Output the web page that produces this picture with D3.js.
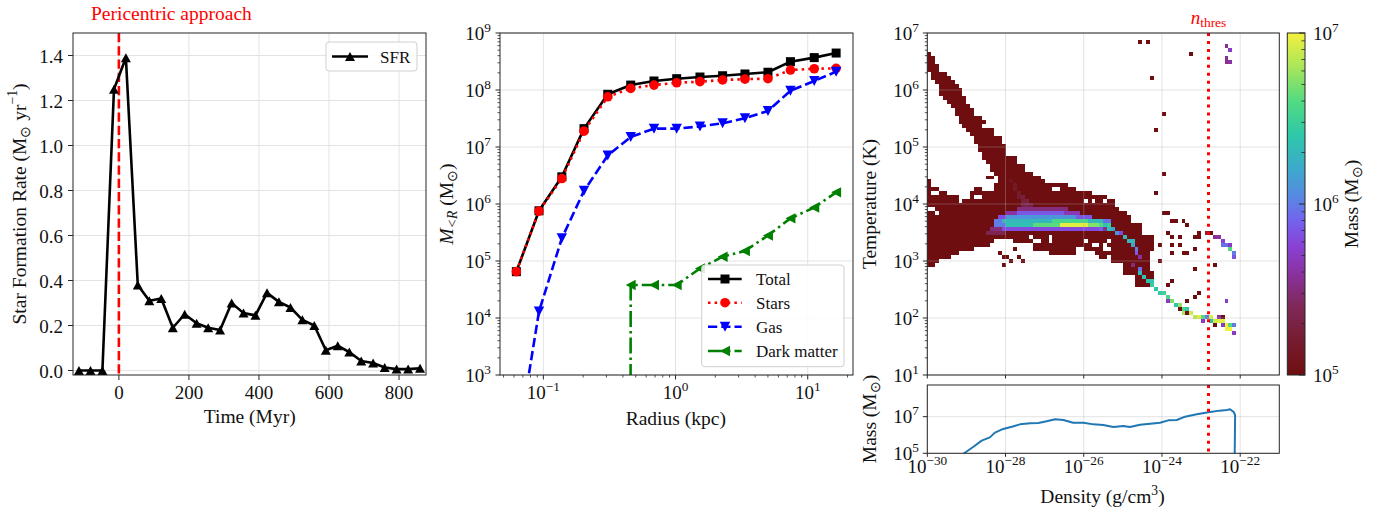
<!DOCTYPE html>
<html><head><meta charset="utf-8">
<script src="https://cdn.jsdelivr.net/npm/d3@7"></script>
<style>body{margin:0;background:#fff}svg{display:block}text{font-family:"Liberation Serif","Times New Roman",serif}</style>
</head><body><svg id="c" width="1391" height="516"></svg>
<script>
// ================= DATA =================
// Panel 1: star formation rate
const sfrTime = [-114,-81,-47,-14,20,54,87,121,154,188,222,255,289,322,356,390,423,457,490,524,558,591,625,658,692,726,759,793,826,860];
const sfrRate = [0,0,0,1.25,1.39,0.38,0.31,0.32,0.19,0.25,0.21,0.19,0.18,0.30,0.255,0.245,0.345,0.305,0.28,0.225,0.20,0.09,0.11,0.082,0.042,0.033,0.013,0.006,0.006,0.01];
const sfrXTicks = [0,200,400,600,800];
const sfrYTicks = [0,0.2,0.4,0.6,0.8,1.0,1.2,1.4];
const pericentreTime = 0;

// Panel 2: enclosed mass profiles
const radius    = [0.0625,0.0927,0.138,0.203,0.307,0.458,0.687,1.02,1.53,2.27,3.35,5.0,7.4,11.2,16.4];
const massTotal = [6.5e4,7.6e5,3.0e6,2.1e7,8.4e7,1.22e8,1.44e8,1.58e8,1.69e8,1.78e8,1.91e8,2.05e8,3.14e8,3.7e8,4.45e8];
const massStars = [6.5e4,7.5e5,2.8e6,1.9e7,7.6e7,1.07e8,1.22e8,1.34e8,1.40e8,1.50e8,1.55e8,1.58e8,2.24e8,2.36e8,2.4e8];
const massGas   = [45,1.3e4,2.5e5,1.7e6,7.1e6,1.5e7,2.1e7,2.1e7,2.3e7,2.6e7,3.2e7,4.3e7,9.7e7,1.44e8,2.1e8];
const massDM    = [0,0,0,0,0,3.8e4,3.8e4,3.8e4,7.4e4,1.19e5,1.5e5,2.8e5,5.6e5,8.7e5,1.6e6];
const seriesNames = ["Total","Stars","Gas","Dark matter"];
const radiusTickExps = [-1,0,1];
const massTickExps = [3,4,5,6,7,8,9];

// Panel 3: phase diagram (2D histogram, bins in log10 units)
const rhoMinLog = -30, rhoBinDex = 0.1, tempMinLog = 1, tempBinDex = 0.07;
const densityTickExps = [-30,-28,-26,-24,-22];
const tempTickExps = [1,2,3,4,5,6,7];
const massHistTickExps = [5,7];
const cbarTickExps = [5,6,7];
const nThresLog = -22.81;
// cells at the colour-scale floor (<= 1e5 Msun): blocks [i0,i1,j0,j1]
const darkBlocks = [[0,0,80,80],[0,1,78,79],[0,2,76,77],[1,4,75,75],[1,5,74,74],[2,6,73,73],[3,7,72,72],[3,8,70,71],[4,9,69,69],[5,9,68,68],[6,10,67,67],[7,11,65,66],[8,13,64,64],[8,14,63,63],[9,13,62,62],[10,16,61,61],[11,16,60,60],[12,18,58,59],[13,19,56,57],[14,19,55,55],[14,22,54,54],[15,22,53,53],[16,24,51,52],[17,26,50,50],[15,16,49,49],[18,28,49,49],[18,29,48,48],[17,30,47,47],[31,35,47,47],[57,57,23,25]];
// columns i = 0.. : bottom and top bin of the warm/cold gas region
const darkColBottom = [27,27,28,29,29,29,30,30,31,31,31,31,32,32,32,33,33,34,34,34,34,34,33,33,33,33,33,31,31,31,31,30,30,30,30,30,30,30,32,32,31,31,31,30,29,29,30,28,28,28,25,25,25,22,22,22,22,31];
const darkColTop    = [48,46,46,45,45,44,44,44,43,43,43,45,46,46,45,45,45,47,48,48,48,48,48,48,48,48,48,48,48,48,47,47,47,47,47,47,46,46,45,45,45,45,44,44,44,44,43,43,41,40,40,39,37,37,37,34,34,34];
const darkHoles = [[0,41],[1,41],[2,40],[8,43],[1,45],[2,45],[12,44],[13,44],[26,34],[27,33],[28,33],[31,33],[31,34],[32,46],[33,46],[40,43],[42,43],[45,43],[40,33],[42,32],[43,32],[45,32],[46,31],[46,33],[45,31]];
const darkScatter = [[15,32],[18,30],[19,29],[20,29],[22,31],[21,28],[23,29],[24,28],[19,27],
 [54,83],[56,83],[67,80],[57,74],[60,65],[58,61],[60,50],[58,45],[60,40],[61,40],[62,38],[63,38],[65,38],[66,37],[61,35],[62,34],[64,34],[68,34],[69,34],[69,35],[72,35],[59,32],[62,32],[64,32],[62,30],[65,30],[66,30],[68,31],[59,28],[68,26],[73,27],[62,23],[61,22],[69,20],[68,19],[66,18],[64,16],[66,15],[75,14],[73,12]];
// coloured runs [j,i0,i1,log10 mass]
const ridgeRuns = [[41,23,35,5.5],[40,20,22,5.6],[40,23,34,5.85],[40,35,38,5.65],[39,18,19,5.8],[39,20,37,6.1],[39,38,41,5.85],
 [38,17,18,6.0],[38,19,31,6.3],[38,32,40,6.55],[38,41,44,6.3],[38,45,46,5.95],
 [37,17,19,6.0],[37,20,26,6.35],[37,27,33,6.62],[37,34,40,6.95],[37,41,43,6.72],[37,44,46,6.45],
 [36,16,18,5.5],[36,19,43,5.8],[36,44,45,5.55],[35,15,19,5.35]];
// coloured single cells [i,j,log10 mass]
const ridgeCells = [[21,48,5.1],[22,47,5.15],[22,46,5.15],[23,45,5.2],[23,44,5.2],[24,44,5.25],[24,43,5.25],[25,43,5.3],[24,42,5.3],[25,42,5.35],[26,42,5.3],
 [44,37,6.6],[44,36,5.9],[45,37,6.35],[46,36,6.35],[47,36,6.2],[48,35,6.1],[49,35,5.8],[50,34,6.3],[51,33,6.3],[52,33,6.3],[52,32,6.15],[53,31,6.0],[53,30,5.85],[54,29,5.6],[52,27,5.5],[54,26,5.95],[54,25,6.3],[55,24,6.35],[56,23,6.35],[57,23,6.4],[57,22,6.45],[58,21,6.4],[59,20,6.4],[60,20,6.5],[61,18,5.7],[61,19,6.55],[62,18,6.7],[63,17,6.4],[64,17,6.75],[65,16,6.6],[65,15,6.8],[66,16,6.4],[67,15,6.9],[68,14,6.85],[69,14,6.95],[70,14,6.6],[70,13,5.7],[71,14,6.0],[72,14,6.95],[72,13,6.35],[73,13,6.9],[74,13,6.95],[75,13,6.95],[75,12,5.7],[76,12,7.0],[77,12,6.6],[78,12,6.0],[76,11,7.0],[77,11,7.0],[78,10,5.7],[74,14,5.6],
 [71,35,5.3],[73,34,5.55],[74,34,5.6],[75,33,5.75],[75,32,5.95],[76,32,5.95],[77,32,5.7],[77,31,6.6],[78,30,6.0],[78,29,5.85],[76,18,5.7],
 [76,82,5.55],[77,81,5.7],[76,79,5.55],[76,78,5.55],[77,78,5.6]];
// gas mass per density bin (log10 values)
const massCurveRhoLog = [-29.2,-29.04,-28.82,-28.61,-28.40,-28.27,-28.06,-27.84,-27.63,-27.37,-27.16,-26.95,-26.73,-26.52,-26.27,-26.01,-25.75,-25.50,-25.24,-24.99,-24.82,-24.56,-24.30,-24.05,-23.84,-23.62,-23.41,-23.11,-22.81,-22.53,-22.34,-22.26,-22.17,-22.13,-22.15];
const massCurveMLog   = [4.75,5.03,5.36,5.69,5.87,6.13,6.33,6.45,6.58,6.64,6.66,6.75,6.86,6.82,6.67,6.67,6.58,6.55,6.44,6.49,6.44,6.56,6.62,6.67,6.80,6.82,7.0,7.13,7.24,7.33,7.37,7.40,7.27,7.09,3.0];

// ================= DRAWING =================
const svg = d3.select('#c');
const TICK_FS = 19, LAB_FS = 19.5, LEG_FS = 17;
const GRIDC = '#e3e3e3', AX = '#262626';

function richText(parent, x, y, parts, size, anchor, rotate, fill) {
  const t = parent.append('text').attr('x', x).attr('y', y).attr('font-size', size)
    .attr('text-anchor', anchor || 'start').attr('fill', fill || '#111');
  if (rotate) t.attr('transform', `rotate(${rotate},${x},${y})`);
  let shift = 0;
  parts.forEach(p => {
    const k = typeof p === 'string' ? {t: p} : p;
    const fs = k.s ? size * 0.7 : size;
    const target = k.s === 'sup' ? -0.42 * size : k.s === 'sub' ? 0.22 * size : 0;
    const ts = t.append('tspan').attr('font-size', fs).attr('dy', target - shift).text(k.t);
    if (k.i) ts.attr('font-style', 'italic');
    shift = target;
  });
  return t;
}
const pow10 = e => ['10', {t: (e < 0 ? '\u2212' : '') + Math.abs(e), s: 'sup'}];
function ln(g, x1, y1, x2, y2, stroke, w, dash) {
  const l = g.append('line').attr('x1', x1).attr('y1', y1).attr('x2', x2).attr('y2', y2)
    .attr('stroke', stroke).attr('stroke-width', w);
  if (dash) l.attr('stroke-dasharray', dash);
  return l;
}
function minorLog(domain) {
  const out = [];
  const a = Math.floor(Math.log10(domain[0])), b = Math.ceil(Math.log10(domain[1]));
  for (let d = a; d <= b; d++) for (let k = 2; k <= 9; k++) {
    const v = k * Math.pow(10, d);
    if (v >= domain[0] && v <= domain[1]) out.push(v);
  }
  return out;
}
const markerPaths = {
  tri: 'M0,-4.6L5,4.4L-5,4.4Z',
  triDown: 'M0,5L-5.2,-5L5.2,-5Z',
  triLeft: 'M-5,0L5,-5.2L5,5.2Z',
  square: 'M-4.5,-4.5H4.5V4.5H-4.5Z'
};
function clip(id, x0, y0, x1, y1) {
  svg.append('clipPath').attr('id', id).append('rect').attr('x', x0).attr('y', y0).attr('width', x1 - x0).attr('height', y1 - y0);
  return `url(#${id})`;
}

// ---------- Panel 1 ----------
{
  const P = {x0: 73, x1: 426, y0: 33, y1: 375};
  const g = svg.append('g');
  const x = d3.scaleLinear().domain([-131, 877]).range([P.x0, P.x1]);
  const y = d3.scaleLinear().domain([-0.02, 1.5]).range([P.y1, P.y0]);
  sfrXTicks.forEach(v => ln(g, x(v), P.y0, x(v), P.y1, GRIDC, 1));
  sfrYTicks.forEach(v => ln(g, P.x0, y(v), P.x1, y(v), GRIDC, 1));
  sfrXTicks.forEach(v => {
    ln(g, x(v), P.y1, x(v), P.y1 + 5, AX, 1);
    g.append('text').attr('x', x(v)).attr('y', 398.5).attr('text-anchor', 'middle').attr('font-size', TICK_FS).attr('fill', '#111').text(d3.format('d')(v));
  });
  sfrYTicks.forEach(v => {
    ln(g, P.x0 - 5, y(v), P.x0, y(v), AX, 1);
    g.append('text').attr('x', 63).attr('y', y(v) + 7).attr('text-anchor', 'end').attr('font-size', TICK_FS).attr('fill', '#111').text(d3.format('.1f')(v));
  });
  const cp = clip('clipL', P.x0, P.y0, P.x1, P.y1);
  const pg = g.append('g').attr('clip-path', cp);
  ln(pg, x(pericentreTime), P.y0, x(pericentreTime), P.y1, '#ff0000', 2.6, '9.25,4');
  pg.append('path').datum(sfrTime.map((t, i) => [t, sfrRate[i]]))
    .attr('d', d3.line().x(d => x(d[0])).y(d => y(d[1])))
    .attr('fill', 'none').attr('stroke', '#000').attr('stroke-width', 2.6).attr('stroke-linejoin', 'round');
  sfrTime.forEach((t, i) => pg.append('path').attr('d', markerPaths.tri).attr('transform', `translate(${x(t)},${y(sfrRate[i])})`).attr('fill', '#000'));
  g.append('rect').attr('x', P.x0).attr('y', P.y0).attr('width', P.x1 - P.x0).attr('height', P.y1 - P.y0).attr('fill', 'none').attr('stroke', AX).attr('stroke-width', 1);
  // legend
  g.append('rect').attr('x', 326).attr('y', 42).attr('width', 91).attr('height', 29).attr('rx', 3).attr('fill', 'rgba(255,255,255,0.85)').attr('stroke', '#d0d0d0');
  ln(g, 332, 56.5, 368, 56.5, '#000', 2.6);
  g.append('path').attr('d', markerPaths.tri).attr('transform', 'translate(350,56.5)').attr('fill', '#000');
  g.append('text').attr('x', 380).attr('y', 62.5).attr('font-size', LEG_FS).attr('fill', '#111').text('SFR');
  // labels
  g.append('text').attr('x', 91).attr('y', 19.5).attr('font-size', LAB_FS).attr('fill', '#ff0000').text('Pericentric approach');
  g.append('text').attr('x', 249.7).attr('y', 423.3).attr('text-anchor', 'middle').attr('font-size', LAB_FS).attr('fill', '#111').text('Time (Myr)');
  richText(g, 25.5, 204, ['Star Formation Rate (M', {t: '\u2299', s: 'sub'}, ' yr', {t: '\u22121', s: 'sup'}, ')'], LAB_FS, 'middle', -90);
}

// ---------- Panel 2 ----------
{
  const P = {x0: 500, x1: 853, y0: 33, y1: 375};
  const g = svg.append('g');
  const x = d3.scaleLog().domain([0.047, 22]).range([P.x0, P.x1]);
  const y = d3.scaleLog().domain([1e3, 1e9]).range([P.y1, P.y0]);
  radiusTickExps.forEach(e => ln(g, x(Math.pow(10, e)), P.y0, x(Math.pow(10, e)), P.y1, GRIDC, 1));
  massTickExps.forEach(e => ln(g, P.x0, y(Math.pow(10, e)), P.x1, y(Math.pow(10, e)), GRIDC, 1));
  radiusTickExps.forEach(e => {
    const xv = x(Math.pow(10, e));
    ln(g, xv, P.y1, xv, P.y1 + 4.5, AX, 1);
    richText(g, xv, 399, pow10(e), TICK_FS, 'middle');
  });
  minorLog(x.domain()).forEach(v => ln(g, x(v), P.y1, x(v), P.y1 + 2.5, AX, 0.8));
  massTickExps.forEach(e => {
    const yv = y(Math.pow(10, e));
    ln(g, P.x0 - 4.5, yv, P.x0, yv, AX, 1);
    richText(g, 491, yv + 6.5, pow10(e), TICK_FS, 'end');
  });
  minorLog(y.domain()).forEach(v => ln(g, P.x0 - 2.5, y(v), P.x0, y(v), AX, 0.8));
  const cp = clip('clipM', P.x0, P.y0, P.x1, P.y1);
  const pg = g.append('g').attr('clip-path', cp);
  const safe = v => (v > 0 ? v : 1e-300);
  const series = [
    {vals: massTotal, color: '#000000', dash: null, marker: 'square'},
    {vals: massStars, color: '#ff0000', dash: '2.5,4.1', marker: 'circle'},
    {vals: massGas, color: '#0000ff', dash: '9.25,4', marker: 'triDown'},
    {vals: massDM, color: '#008000', dash: '16,4,2.5,4', marker: 'triLeft'}
  ];
  const drawMarker = (gg, m, cx, cy, color) => {
    if (m === 'circle') gg.append('circle').attr('cx', cx).attr('cy', cy).attr('r', 4.8).attr('fill', color);
    else gg.append('path').attr('d', markerPaths[m]).attr('transform', `translate(${cx},${cy})`).attr('fill', color);
  };
  series.forEach(s => {
    pg.append('path').datum(radius.map((r, i) => [r, safe(s.vals[i])]))
      .attr('d', d3.line().x(d => x(d[0])).y(d => y(d[1])))
      .attr('fill', 'none').attr('stroke', s.color).attr('stroke-width', 2.6)
      .attr('stroke-dasharray', s.dash).attr('stroke-linejoin', 'round');
    radius.forEach((r, i) => { if (s.vals[i] > 0) drawMarker(pg, s.marker, x(r), y(s.vals[i]), s.color); });
  });
  g.append('rect').attr('x', P.x0).attr('y', P.y0).attr('width', P.x1 - P.x0).attr('height', P.y1 - P.y0).attr('fill', 'none').attr('stroke', AX).attr('stroke-width', 1);
  // legend
  g.append('rect').attr('x', 701.7).attr('y', 265).attr('width', 142.3).attr('height', 101.7).attr('rx', 3).attr('fill', 'rgba(255,255,255,0.85)').attr('stroke', '#d0d0d0');
  const ly = [279, 302.7, 326.7, 351];
  series.forEach((s, k) => {
    ln(g, 708, ly[k], 741.7, ly[k], s.color, 2.6, s.dash);
    drawMarker(g, s.marker, 725, ly[k], s.color);
    g.append('text').attr('x', 756).attr('y', ly[k] + 6).attr('font-size', LEG_FS).attr('fill', '#111').text(seriesNames[k]);
  });
  g.append('text').attr('x', 675.8).attr('y', 425).attr('text-anchor', 'middle').attr('font-size', LAB_FS).attr('fill', '#111').text('Radius (kpc)');
  richText(g, 453, 204, [{t: 'M', i: 1}, {t: '<R', s: 'sub', i: 1}, ' (M', {t: '\u2299', s: 'sub'}, ')'], LAB_FS, 'middle', -90);
}

// ---------- Panel 3 ----------
const cmapStops = [[0,'#6e0e10'],[0.1,'#761c30'],[0.2,'#7e2858'],[0.3,'#8a32a2'],[0.38,'#8842d6'],[0.45,'#7462ee'],[0.52,'#5888e2'],[0.6,'#3ea8cc'],[0.7,'#2ec8aa'],[0.8,'#52da82'],[0.9,'#a8e65a'],[1,'#f4f03c']];
const cmap = d3.scaleLinear().domain(cmapStops.map(d => d[0])).range(cmapStops.map(d => d[1])).interpolate(d3.interpolateRgb).clamp(true);
{
  const P = {x0: 927.3, x1: 1279.3, y0: 33, y1: 375};
  const B = {y0: 385, y1: 453.3};
  const g = svg.append('g');
  const x = d3.scaleLog().domain([1e-30, 1e-21]).range([P.x0, P.x1]);
  const y = d3.scaleLog().domain([1e1, 1e7]).range([P.y1, P.y0]);
  const yb = d3.scaleLog().domain([1e5, Math.pow(10, 8.73)]).range([B.y1, B.y0]);
  const cNorm = d3.scaleLog().domain([1e5, 1e7]).range([0, 1]).clamp(true);

  // build histogram cells
  const cells = new Map();
  const put = (i, j, v) => cells.set(i + ',' + j, [i, j, v]);
  darkBlocks.forEach(([i0, i1, j0, j1]) => { for (let i = i0; i <= i1; i++) for (let j = j0; j <= j1; j++) put(i, j, 5); });
  darkColBottom.forEach((jb, i) => { for (let j = jb; j <= darkColTop[i]; j++) put(i, j, 5); });
  darkHoles.forEach(([i, j]) => cells.delete(i + ',' + j));
  darkScatter.forEach(([i, j]) => put(i, j, 5));
  ridgeRuns.forEach(([j, i0, i1, v]) => { for (let i = i0; i <= i1; i++) put(i, j, v); });
  ridgeCells.forEach(([i, j, v]) => put(i, j, v));
  const hg = g.append('g').attr('shape-rendering', 'crispEdges');
  cells.forEach(([i, j, v]) => {
    const xa = Math.round(x(Math.pow(10, rhoMinLog + i * rhoBinDex))), xb = Math.round(x(Math.pow(10, rhoMinLog + (i + 1) * rhoBinDex)));
    const ya = Math.round(y(Math.pow(10, tempMinLog + (j + 1) * tempBinDex))), yb2 = Math.round(y(Math.pow(10, tempMinLog + j * tempBinDex)));
    hg.append('rect').attr('x', xa).attr('y', ya).attr('width', xb - xa).attr('height', yb2 - ya)
      .attr('fill', cmap(cNorm(Math.pow(10, v))));
  });
  // grids
  const GR = 'rgba(176,176,176,0.35)';
  densityTickExps.forEach(e => {
    const xv = x(Math.pow(10, e));
    ln(g, xv, P.y0, xv, P.y1, GR, 1);
    ln(g, xv, B.y0, xv, B.y1, GR, 1);
  });
  tempTickExps.forEach(e => ln(g, P.x0, y(Math.pow(10, e)), P.x1, y(Math.pow(10, e)), GR, 1));
  massHistTickExps.forEach(e => ln(g, P.x0, yb(Math.pow(10, e)), P.x1, yb(Math.pow(10, e)), GR, 1));
  // ticks
  densityTickExps.forEach(e => {
    const xv = x(Math.pow(10, e));
    ln(g, xv, P.y1, xv, P.y1 + 3.5, AX, 1);
    ln(g, xv, B.y1, xv, B.y1 + 3.5, AX, 1);
    richText(g, xv, 473, pow10(e), TICK_FS, 'middle');
  });
  tempTickExps.forEach(e => {
    const yv = y(Math.pow(10, e));
    ln(g, P.x0 - 4.5, yv, P.x0, yv, AX, 1);
    richText(g, 919, yv + 6.5, pow10(e), TICK_FS, 'end');
  });
  minorLog(y.domain()).forEach(v => ln(g, P.x0 - 2.5, y(v), P.x0, y(v), AX, 0.8));
  massHistTickExps.forEach(e => {
    const yv = yb(Math.pow(10, e));
    ln(g, P.x0 - 4.5, yv, P.x0, yv, AX, 1);
    richText(g, 919, yv + 6.5, pow10(e), TICK_FS, 'end');
  });
  // mass curve
  const cp = clip('clipRB', P.x0, B.y0, P.x1, B.y1);
  g.append('g').attr('clip-path', cp).append('path')
    .datum(massCurveRhoLog.map((r, i) => [Math.pow(10, r), Math.pow(10, massCurveMLog[i])]))
    .attr('d', d3.line().x(d => x(d[0])).y(d => yb(d[1])))
    .attr('fill', 'none').attr('stroke', '#1f77b4').attr('stroke-width', 2).attr('stroke-linejoin', 'round');
  // threshold lines
  const xt = x(Math.pow(10, nThresLog));
  ln(g, xt, P.y0, xt, P.y1, '#ff0000', 3, '3,4.95');
  ln(g, xt, B.y0, xt, B.y1, '#ff0000', 3, '3,4.95');
  const nt = g.append('text').attr('x', xt).attr('y', 24).attr('text-anchor', 'middle').attr('fill', '#ff0000').attr('font-size', 19);
  nt.append('tspan').attr('font-style', 'italic').text('n');
  nt.append('tspan').attr('font-size', 13.5).attr('dy', 3).text('thres');
  // frames
  g.append('rect').attr('x', P.x0).attr('y', P.y0).attr('width', P.x1 - P.x0).attr('height', P.y1 - P.y0).attr('fill', 'none').attr('stroke', AX).attr('stroke-width', 1);
  g.append('rect').attr('x', P.x0).attr('y', B.y0).attr('width', P.x1 - P.x0).attr('height', B.y1 - B.y0).attr('fill', 'none').attr('stroke', AX).attr('stroke-width', 1);
  // labels
  g.append('text').attr('x', 1102.5).attr('y', 503).attr('text-anchor', 'middle').attr('font-size', LAB_FS).attr('fill', '#111')
    .call(t => { t.append('tspan').text('Density (g/cm'); t.append('tspan').attr('font-size', 13.6).attr('dy', -8.5).text('3'); t.append('tspan').attr('dy', 8.5).text(')'); });
  g.append('text').attr('x', 876).attr('y', 204).attr('text-anchor', 'middle').attr('font-size', LAB_FS).attr('fill', '#111')
    .attr('transform', 'rotate(-90,876,204)').text('Temperature (K)');
  richText(g, 876, 419, ['Mass (M', {t: '\u2299', s: 'sub'}, ')'], LAB_FS, 'middle', -90);

  // colorbar
  const C = {x0: 1287.3, x1: 1305, y0: 33, y1: 375};
  const grad = svg.append('defs').append('linearGradient').attr('id', 'cbg').attr('x1', 0).attr('y1', 1).attr('x2', 0).attr('y2', 0);
  cmapStops.forEach(([o, c]) => grad.append('stop').attr('offset', o).attr('stop-color', c));
  const yc = d3.scaleLog().domain([1e5, 1e7]).range([C.y1, C.y0]);
  g.append('rect').attr('x', C.x0).attr('y', C.y0).attr('width', C.x1 - C.x0).attr('height', C.y1 - C.y0).attr('fill', 'url(#cbg)');
  minorLog(yc.domain()).forEach(v => ln(g, C.x1 - 3.5, yc(v), C.x1, yc(v), AX, 0.8));
  cbarTickExps.forEach(e => {
    const yv = yc(Math.pow(10, e));
    ln(g, C.x1 - 6, yv, C.x1, yv, AX, 1);
    richText(g, 1313, yv + 6.5, pow10(e), TICK_FS, 'start');
  });
  g.append('rect').attr('x', C.x0).attr('y', C.y0).attr('width', C.x1 - C.x0).attr('height', C.y1 - C.y0).attr('fill', 'none').attr('stroke', AX).attr('stroke-width', 1);
  richText(g, 1358, 204, ['Mass (M', {t: '\u2299', s: 'sub'}, ')'], LAB_FS, 'middle', -90);
}
</script>
</body></html>
